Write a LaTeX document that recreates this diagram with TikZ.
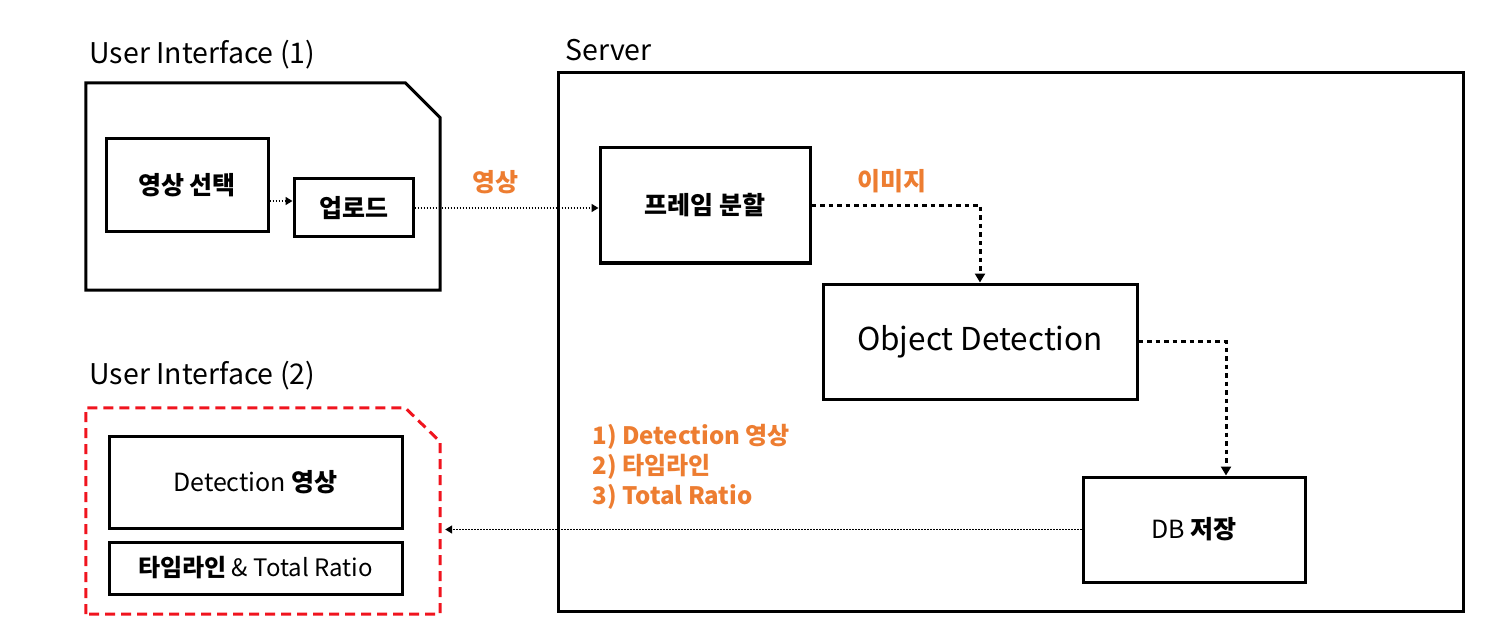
\documentclass[tikz,border=0pt]{standalone}
\usepackage{fontspec}
\setmainfont{Noto Sans CJK KR}
\usetikzlibrary{arrows.meta}
\definecolor{lblorange}{RGB}{237,125,49}
\definecolor{uired}{RGB}{240,20,30}
\begin{document}
\begin{tikzpicture}[x=1pt,y=-1pt,
  box/.style={draw, line width=3pt, rectangle, inner sep=0pt, align=center},
  uiarea/.style={rectangle, inner sep=0pt},
  title/.style={anchor=west, font=\fontsize{28.5}{32}\selectfont},
  lbl/.style={text=lblorange, font=\bfseries\fontsize{25}{30}\selectfont},
  bold/.style={font=\bfseries\fontsize{25}{28}\selectfont},
  thindot/.style={line width=1.5pt, dash pattern=on 1.5pt off 1.5pt, -{Triangle[width=8pt,length=7pt]}},
  thickdot/.style={line width=3pt, dash pattern=on 4.5pt off 4pt, -{Triangle[width=10pt,length=9pt]}}
]
\useasboundingbox (0,0) rectangle (1498,636);

\node[title] (t1) at (86,55) {User Interface (1)};
\node[title] (ts) at (562,50) {Server};
\node[title] (t2) at (86,376) {User Interface (2)};

\node[uiarea, minimum width=354pt, minimum height=207pt] (ui1) at (263,186.5) {};
\node[uiarea, minimum width=354pt, minimum height=206pt] (ui2) at (263,511) {};
\draw[line width=3pt] (ui1.south west) -- (ui1.north west) -- ([xshift=-35pt]ui1.north east)
  -- ([yshift=-35pt]ui1.north east) -- (ui1.south east) -- cycle;
\draw[line width=3pt, uired, dash pattern=on 10pt off 6pt] (ui2.south west) -- (ui2.north west) -- ([xshift=-35pt]ui2.north east)
  -- ([yshift=-34pt]ui2.north east) -- (ui2.south east) -- cycle;
\node[box, minimum width=905pt, minimum height=538pt] (srv) at (1010.5,342) {};

\node[box, bold, minimum width=162pt, minimum height=93pt] (sel) at (187,185.5) {영상 선택};
\node[box, bold, minimum width=119pt, minimum height=58pt] (up) at (353.5,208) {업로드};
\node[box, bold, minimum width=210pt, minimum height=115pt] (frm) at (705,205.5) {프레임 분할};
\node[box, font=\fontsize{31.5}{34}\selectfont, minimum width=314pt, minimum height=115pt] (od) at (980,341.5) {Object Detection};
\node[box, minimum width=222pt, minimum height=105pt] (db) at (1194,529.5) {\fontsize{25}{28}\selectfont DB \bfseries 저장};
\node[box, minimum width=293pt, minimum height=92pt] (det) at (255.5,482) {\fontsize{25}{28}\selectfont Detection \textbf{영상}};
\node[box, minimum width=293pt, minimum height=52pt] (tl) at (255.5,568) {\fontsize{24}{28}\selectfont\textbf{타임라인} \& Total Ratio};

\node[lbl] (l1) at (495,182) {영상};
\node[lbl] (l2) at (892,181) {이미지};
\node[lbl, font=\bfseries\fontsize{24}{30}\selectfont, anchor=west, align=left] (l3) at (589,467) {1) Detection 영상\\2) 타임라인\\3) Total Ratio};

\draw[thindot] (sel.east |- 0,201) -- (up.west |- 0,201);
\draw[thindot] (up.east) -- (frm.west |- up.east);
\draw[thickdot] (frm.east) -| (od.north);
\draw[thickdot] (od.east) -| ([xshift=32pt]db.north);
\draw[thindot, shorten >=5pt] (db.west) -- (ui2.east |- db.west);
\end{tikzpicture}
\end{document}
